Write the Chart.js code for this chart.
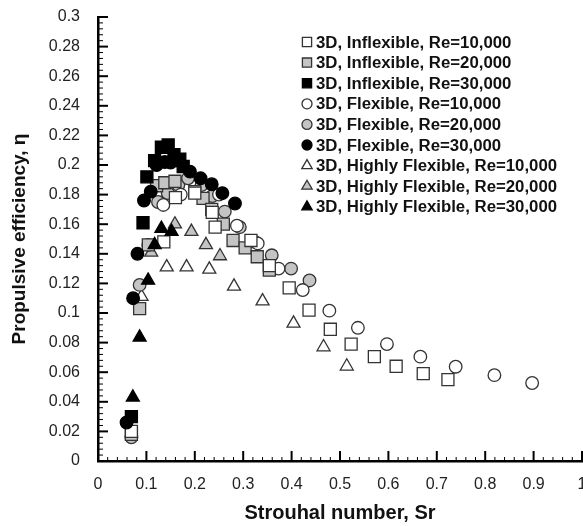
<!DOCTYPE html>
<html>
<head>
<meta charset="utf-8">
<script src="https://cdn.jsdelivr.net/npm/chart.js@4.4.1/dist/chart.umd.min.js"></script>
<style>
  html, body { margin: 0; padding: 0; background: #fff; }
  #wrap { width: 583px; height: 526px; }
</style>
</head>
<body>
<div id="wrap"><canvas id="myChart"></canvas></div>
<script>
// Strouhal number (x) vs propulsive efficiency (y)
const seriesLabels = [
  "3D, Inflexible, Re=10,000",
  "3D, Inflexible, Re=20,000",
  "3D, Inflexible, Re=30,000",
  "3D, Flexible, Re=10,000",
  "3D, Flexible, Re=20,000",
  "3D, Flexible, Re=30,000",
  "3D, Highly Flexible, Re=10,000",
  "3D, Highly Flexible, Re=20,000",
  "3D, Highly Flexible, Re=30,000",
];

const inflex10 = [[0.069, 0.020], [0.136, 0.148], [0.16, 0.178], [0.2, 0.181], [0.236, 0.168], [0.242, 0.158],
  [0.316, 0.149], [0.354, 0.132], [0.395, 0.117], [0.436, 0.102], [0.48, 0.089], [0.523, 0.079],
  [0.571, 0.0705], [0.616, 0.064], [0.672, 0.059], [0.723, 0.055]];
const inflex20 = [[0.069, 0.018], [0.086, 0.103], [0.104, 0.146], [0.121, 0.186], [0.138, 0.188], [0.159, 0.189],
  [0.2, 0.182], [0.217, 0.1775], [0.235, 0.170], [0.259, 0.160], [0.279, 0.149], [0.304, 0.144],
  [0.329, 0.138], [0.354, 0.129]];
const inflex30 = [[0.069, 0.030], [0.093, 0.161], [0.101, 0.192], [0.117, 0.203], [0.131, 0.212], [0.145, 0.2135],
  [0.157, 0.207], [0.169, 0.204], [0.176, 0.199]];
const flex10 = [[0.135, 0.173], [0.171, 0.180], [0.25, 0.18], [0.287, 0.159], [0.33, 0.147], [0.373, 0.130],
  [0.423, 0.1155], [0.478, 0.1016], [0.537, 0.090], [0.597, 0.079], [0.666, 0.0705], [0.739, 0.0637],
  [0.819, 0.058], [0.897, 0.0527]];
const flex20 = [[0.069, 0.016], [0.086, 0.119], [0.104, 0.146], [0.124, 0.175], [0.144, 0.181], [0.166, 0.1865],
  [0.186, 0.191], [0.214, 0.1865], [0.236, 0.179], [0.262, 0.1685], [0.293, 0.158], [0.324, 0.148],
  [0.359, 0.139], [0.399, 0.130], [0.437, 0.122]];
const flex30 = [[0.059, 0.026], [0.0725, 0.110], [0.0815, 0.140], [0.095, 0.176], [0.109, 0.182], [0.121, 0.200],
  [0.138, 0.202], [0.150, 0.2016], [0.164, 0.203], [0.190, 0.1955], [0.212, 0.191], [0.235, 0.187],
  [0.257, 0.181], [0.283, 0.174]];
const hflex10 = [[0.090, 0.111], [0.142, 0.131], [0.183, 0.131], [0.23, 0.1295], [0.281, 0.118], [0.340, 0.108],
  [0.404, 0.093], [0.466, 0.077], [0.514, 0.064]];
const hflex20 = [[0.11, 0.141], [0.159, 0.160], [0.193, 0.155], [0.223, 0.146], [0.252, 0.1385]];
const hflex30 = [[0.072, 0.043], [0.086, 0.0836], [0.1035, 0.122], [0.117, 0.146], [0.131, 0.157], [0.152, 0.155]];

const seriesData = [inflex10, inflex20, inflex30, flex10, flex20, flex30, hflex10, hflex20, hflex30];
const seriesShapes = ["rect", "rect", "rect", "circle", "circle", "circle", "triangle", "triangle", "triangle"];
const seriesFills = ["#ffffff", "#c4c4c4", "#000000", "#ffffff", "#c4c4c4", "#000000", "#ffffff", "#c4c4c4", "#000000"];

const FONT = "'Liberation Sans', Arial, sans-serif";
const RADIUS = { rect: 8.5, circle: 6.3, triangle: 7.5 };
const LEGEND_RADIUS = { rect: 6.5, circle: 5, triangle: 6 };

function drawMarker(ctx, shape, x, y, r, fill) {
  ctx.fillStyle = fill;
  ctx.strokeStyle = fill === "#000000" ? "#000" : "#333";
  ctx.lineWidth = 1.3;
  ctx.beginPath();
  if (shape === "circle") {
    ctx.arc(x, y, r, 0, Math.PI * 2);
  } else if (shape === "rect") {
    const s = r * Math.SQRT1_2;
    ctx.rect(x - s, y - s, 2 * s, 2 * s);
  } else {
    ctx.moveTo(x, y - r);
    ctx.lineTo(x + r * 0.866, y + r * 0.5);
    ctx.lineTo(x - r * 0.866, y + r * 0.5);
    ctx.closePath();
  }
  ctx.fill();
  ctx.stroke();
}

const innerTicks = {
  id: "innerTicks",
  afterDraw(chart) {
    const { ctx, chartArea, scales } = chart;
    ctx.save();
    ctx.strokeStyle = "#000";
    for (let i = 0; i <= 50; i++) {
      const px = scales.x.getPixelForValue(i * 0.02);
      const major = i % 5 === 0;
      ctx.lineWidth = major ? 2 : 1;
      ctx.beginPath();
      ctx.moveTo(px, chartArea.bottom);
      ctx.lineTo(px, chartArea.bottom - (major ? 10 : 4));
      ctx.stroke();
    }
    for (let i = 0; i <= 75; i++) {
      const py = scales.y.getPixelForValue(i * 0.004);
      const major = i % 5 === 0;
      ctx.lineWidth = major ? 2 : 1;
      ctx.beginPath();
      ctx.moveTo(chartArea.left, py);
      ctx.lineTo(chartArea.left + (major ? 10 : 5), py);
      ctx.stroke();
    }
    ctx.restore();
  },
};

const insideLegend = {
  id: "insideLegend",
  afterDraw(chart) {
    const ctx = chart.ctx;
    ctx.save();
    ctx.font = "bold 16.8px " + FONT;
    ctx.textBaseline = "middle";
    ctx.textAlign = "left";
    seriesLabels.forEach((label, i) => {
      const y = 42 + i * 20.6;
      drawMarker(ctx, seriesShapes[i], 307, y, LEGEND_RADIUS[seriesShapes[i]], seriesFills[i]);
      ctx.fillStyle = "#111";
      ctx.fillText(label, 316, y + 1);
    });
    ctx.restore();
  },
};

const datasets = seriesData.map((pts, i) => ({
  label: seriesLabels[i],
  data: pts.map((p) => ({ x: p[0], y: p[1] })),
  showLine: false,
  pointStyle: seriesShapes[i],
  pointRadius: RADIUS[seriesShapes[i]],
  pointBackgroundColor: seriesFills[i],
  pointBorderColor: seriesFills[i] === "#000000" ? "#000" : "#333",
  pointBorderWidth: 1.3,
  order: seriesFills[i] === "#000000" ? 0 : 1,
}));

const ctx = document.getElementById("myChart");
new Chart(ctx, {
  type: "scatter",
  data: { datasets: datasets },
  options: {
    responsive: true,
    maintainAspectRatio: false,
    animation: false,
    layout: { autoPadding: false, padding: { left: 0, top: 17, right: 1, bottom: 0 } },
    plugins: { legend: { display: false }, tooltip: { enabled: false } },
    scales: {
      x: {
        type: "linear",
        min: 0,
        max: 1,
        grid: { display: false },
        border: { display: true, color: "#000", width: 2.5 },
        ticks: {
          stepSize: 0.1,
          padding: 6,
          color: "#222",
          maxRotation: 0,
          font: { family: FONT, size: 16 },
          callback: (v) => String(Number(v.toFixed(2))),
        },
        title: {
          display: true,
          text: "Strouhal number, Sr",
          color: "#111",
          font: { family: FONT, size: 20, weight: "bold" },
          padding: { top: 0, bottom: 1 },
        },
        afterFit: (scale) => {
          scale.height = 65;
          scale.paddingLeft = 0;
          scale.paddingRight = 0;
        },
      },
      y: {
        type: "linear",
        min: 0,
        max: 0.3,
        grid: { display: false },
        border: { display: true, color: "#000", width: 2.5 },
        ticks: {
          stepSize: 0.02,
          padding: 10,
          color: "#222",
          font: { family: FONT, size: 16 },
          callback: (v) => String(Number(v.toFixed(2))),
        },
        title: {
          display: true,
          text: "Propulsive efficiency, η",
          color: "#111",
          font: { family: FONT, size: 19, weight: "bold" },
          padding: { top: 8, bottom: 0 },
        },
        afterFit: (scale) => {
          scale.width = 98;
          scale.paddingTop = 0;
          scale.paddingBottom = 0;
        },
      },
    },
  },
  plugins: [innerTicks, insideLegend],
});
</script>
</body>
</html>
